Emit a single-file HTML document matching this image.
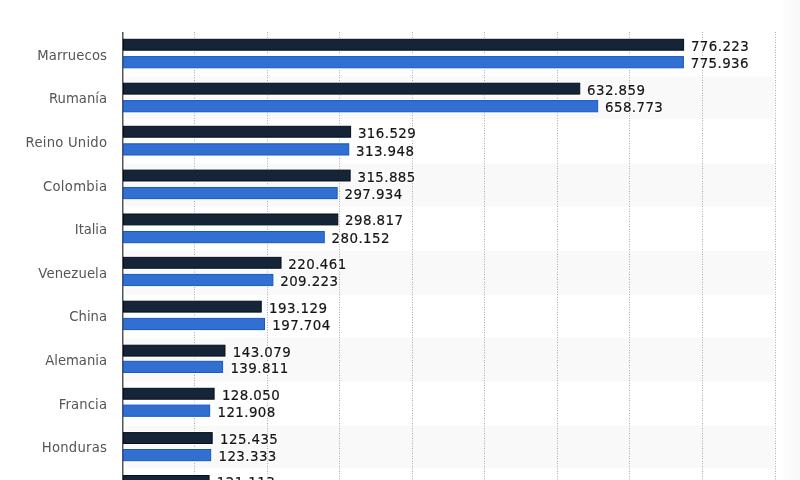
<!DOCTYPE html>
<html><head><meta charset="utf-8"><style>
html,body{margin:0;padding:0;background:#fff;}
body{width:800px;height:480px;overflow:hidden;position:relative;}
svg{position:absolute;left:0;top:0;}
.lab{font-family:"DejaVu Sans","Liberation Sans",sans-serif;font-size:13.2px;letter-spacing:0.12px;fill:#555;}
.val,.halo{font-family:"DejaVu Sans","Liberation Sans",sans-serif;font-size:13.4px;letter-spacing:0.42px;}
.val{fill:#151515;stroke:#151515;stroke-width:0.2px;}
.halo{fill:#fff;stroke:#fff;stroke-width:2px;stroke-linejoin:round;}
</style></head><body>
<svg width="800" height="480" viewBox="0 0 800 480">
<defs><linearGradient id="rg" x1="0" x2="1" y1="0" y2="0"><stop offset="0" stop-color="#fff"/><stop offset="1" stop-color="#f8f8f8"/></linearGradient></defs>
<rect x="780" y="0" width="20" height="480" fill="url(#rg)"/>
<rect x="125" y="76.5" width="649" height="42.70" fill="#f9f9f9"/>
<rect x="125" y="163.8" width="649" height="42.70" fill="#f9f9f9"/>
<rect x="125" y="250.8" width="649" height="44.10" fill="#f9f9f9"/>
<rect x="125" y="337.8" width="649" height="43.70" fill="#f9f9f9"/>
<rect x="125" y="425.8" width="649" height="42.50" fill="#f9f9f9"/>
<line x1="194.5" y1="32.125" x2="194.5" y2="480" stroke="#8f8f8f" stroke-width="1" stroke-dasharray="0.75 1.772" stroke-dashoffset="0"/>
<line x1="267.5" y1="32.125" x2="267.5" y2="480" stroke="#8f8f8f" stroke-width="1" stroke-dasharray="0.75 1.772" stroke-dashoffset="0"/>
<line x1="339.5" y1="32.125" x2="339.5" y2="480" stroke="#8f8f8f" stroke-width="1" stroke-dasharray="0.75 1.772" stroke-dashoffset="0"/>
<line x1="412.5" y1="32.125" x2="412.5" y2="480" stroke="#8f8f8f" stroke-width="1" stroke-dasharray="0.75 1.772" stroke-dashoffset="0"/>
<line x1="484.5" y1="32.125" x2="484.5" y2="480" stroke="#8f8f8f" stroke-width="1" stroke-dasharray="0.75 1.772" stroke-dashoffset="0"/>
<line x1="557.5" y1="32.125" x2="557.5" y2="480" stroke="#8f8f8f" stroke-width="1" stroke-dasharray="0.75 1.772" stroke-dashoffset="0"/>
<line x1="629.5" y1="32.125" x2="629.5" y2="480" stroke="#8f8f8f" stroke-width="1" stroke-dasharray="0.75 1.772" stroke-dashoffset="0"/>
<line x1="702.5" y1="32.125" x2="702.5" y2="480" stroke="#8f8f8f" stroke-width="1" stroke-dasharray="0.75 1.772" stroke-dashoffset="0"/>
<line x1="775.5" y1="32.125" x2="775.5" y2="480" stroke="#8f8f8f" stroke-width="1" stroke-dasharray="0.75 1.772" stroke-dashoffset="0"/>
<rect x="122" y="37.80" width="563.10" height="13.90" fill="#fff"/>
<rect x="122" y="55.10" width="562.90" height="14.20" fill="#fff"/>
<rect x="122" y="81.70" width="459.26" height="13.90" fill="#fff"/>
<rect x="122" y="99.10" width="477.20" height="14.20" fill="#fff"/>
<rect x="122" y="124.80" width="230.12" height="13.90" fill="#fff"/>
<rect x="122" y="142.30" width="228.25" height="14.20" fill="#fff"/>
<rect x="122" y="168.60" width="229.65" height="13.90" fill="#fff"/>
<rect x="122" y="185.95" width="216.65" height="14.20" fill="#fff"/>
<rect x="122" y="212.50" width="217.29" height="13.90" fill="#fff"/>
<rect x="122" y="230.00" width="203.77" height="14.20" fill="#fff"/>
<rect x="122" y="255.85" width="160.53" height="13.90" fill="#fff"/>
<rect x="122" y="272.90" width="152.39" height="14.20" fill="#fff"/>
<rect x="122" y="299.70" width="140.73" height="13.90" fill="#fff"/>
<rect x="122" y="316.90" width="144.05" height="14.20" fill="#fff"/>
<rect x="122" y="343.70" width="104.48" height="13.90" fill="#fff"/>
<rect x="122" y="359.80" width="102.11" height="14.20" fill="#fff"/>
<rect x="122" y="386.80" width="93.59" height="13.90" fill="#fff"/>
<rect x="122" y="403.60" width="89.15" height="14.20" fill="#fff"/>
<rect x="122" y="431.10" width="91.70" height="13.90" fill="#fff"/>
<rect x="122" y="448.00" width="90.18" height="14.20" fill="#fff"/>
<rect x="122" y="474.00" width="88.57" height="13.90" fill="#fff"/>
<line x1="122.75" y1="32" x2="122.75" y2="480" stroke="#555" stroke-width="1.5"/>
<rect x="123.5" y="39.30" width="560.10" height="10.90" fill="#152537" stroke="#030f1d" stroke-width="1"/>
<rect x="123.5" y="56.60" width="559.90" height="11.20" fill="#3170d0" stroke="#1557c9" stroke-width="1"/>
<rect x="123.5" y="83.20" width="456.26" height="10.90" fill="#152537" stroke="#030f1d" stroke-width="1"/>
<rect x="123.5" y="100.60" width="474.20" height="11.20" fill="#3170d0" stroke="#1557c9" stroke-width="1"/>
<rect x="123.5" y="126.30" width="227.12" height="10.90" fill="#152537" stroke="#030f1d" stroke-width="1"/>
<rect x="123.5" y="143.80" width="225.25" height="11.20" fill="#3170d0" stroke="#1557c9" stroke-width="1"/>
<rect x="123.5" y="170.10" width="226.65" height="10.90" fill="#152537" stroke="#030f1d" stroke-width="1"/>
<rect x="123.5" y="187.45" width="213.65" height="11.20" fill="#3170d0" stroke="#1557c9" stroke-width="1"/>
<rect x="123.5" y="214.00" width="214.29" height="10.90" fill="#152537" stroke="#030f1d" stroke-width="1"/>
<rect x="123.5" y="231.50" width="200.77" height="11.20" fill="#3170d0" stroke="#1557c9" stroke-width="1"/>
<rect x="123.5" y="257.35" width="157.53" height="10.90" fill="#152537" stroke="#030f1d" stroke-width="1"/>
<rect x="123.5" y="274.40" width="149.39" height="11.20" fill="#3170d0" stroke="#1557c9" stroke-width="1"/>
<rect x="123.5" y="301.20" width="137.73" height="10.90" fill="#152537" stroke="#030f1d" stroke-width="1"/>
<rect x="123.5" y="318.40" width="141.05" height="11.20" fill="#3170d0" stroke="#1557c9" stroke-width="1"/>
<rect x="123.5" y="345.20" width="101.48" height="10.90" fill="#152537" stroke="#030f1d" stroke-width="1"/>
<rect x="123.5" y="361.30" width="99.11" height="11.20" fill="#3170d0" stroke="#1557c9" stroke-width="1"/>
<rect x="123.5" y="388.30" width="90.59" height="10.90" fill="#152537" stroke="#030f1d" stroke-width="1"/>
<rect x="123.5" y="405.10" width="86.15" height="11.20" fill="#3170d0" stroke="#1557c9" stroke-width="1"/>
<rect x="123.5" y="432.60" width="88.70" height="10.90" fill="#152537" stroke="#030f1d" stroke-width="1"/>
<rect x="123.5" y="449.50" width="87.18" height="11.20" fill="#3170d0" stroke="#1557c9" stroke-width="1"/>
<rect x="123.5" y="475.50" width="85.57" height="10.90" fill="#152537" stroke="#030f1d" stroke-width="1"/>
<text x="690.90" y="50.70" class="halo">776.223</text>
<text x="690.70" y="68.30" class="halo">775.936</text>
<text x="587.06" y="94.60" class="halo">632.859</text>
<text x="605.00" y="112.30" class="halo">658.773</text>
<text x="357.92" y="137.70" class="halo">316.529</text>
<text x="356.05" y="155.50" class="halo">313.948</text>
<text x="357.45" y="181.50" class="halo">315.885</text>
<text x="344.45" y="199.15" class="halo">297.934</text>
<text x="345.09" y="225.40" class="halo">298.817</text>
<text x="331.57" y="243.20" class="halo">280.152</text>
<text x="288.33" y="268.75" class="halo">220.461</text>
<text x="280.19" y="286.10" class="halo">209.223</text>
<text x="269.03" y="312.60" class="halo">193.129</text>
<text x="272.35" y="330.10" class="halo">197.704</text>
<text x="232.78" y="356.60" class="halo">143.079</text>
<text x="230.41" y="373.00" class="halo">139.811</text>
<text x="221.89" y="399.70" class="halo">128.050</text>
<text x="217.45" y="416.80" class="halo">121.908</text>
<text x="220.00" y="444.00" class="halo">125.435</text>
<text x="218.48" y="461.20" class="halo">123.333</text>
<text x="216.87" y="486.90" class="halo">121.113</text>
<text x="107.12" y="60.00" text-anchor="end" class="lab" style="letter-spacing:0.12px">Marruecos</text>
<text x="690.90" y="50.70" class="val">776.223</text>
<text x="690.70" y="68.30" class="val">775.936</text>
<text x="107.00" y="103.00" text-anchor="end" class="lab" style="letter-spacing:0.0px">Rumanía</text>
<text x="587.06" y="94.60" class="val">632.859</text>
<text x="605.00" y="112.30" class="val">658.773</text>
<text x="107.23" y="147.00" text-anchor="end" class="lab" style="letter-spacing:0.23px">Reino Unido</text>
<text x="357.92" y="137.70" class="val">316.529</text>
<text x="356.05" y="155.50" class="val">313.948</text>
<text x="107.30" y="191.00" text-anchor="end" class="lab" style="letter-spacing:0.3px">Colombia</text>
<text x="357.45" y="181.50" class="val">315.885</text>
<text x="344.45" y="199.15" class="val">297.934</text>
<text x="106.92" y="234.00" text-anchor="end" class="lab" style="letter-spacing:-0.08px">Italia</text>
<text x="345.09" y="225.40" class="val">298.817</text>
<text x="331.57" y="243.20" class="val">280.152</text>
<text x="107.12" y="277.90" text-anchor="end" class="lab" style="letter-spacing:0.12px">Venezuela</text>
<text x="288.33" y="268.75" class="val">220.461</text>
<text x="280.19" y="286.10" class="val">209.223</text>
<text x="107.00" y="320.70" text-anchor="end" class="lab" style="letter-spacing:0.0px">China</text>
<text x="269.03" y="312.60" class="val">193.129</text>
<text x="272.35" y="330.10" class="val">197.704</text>
<text x="106.98" y="364.90" text-anchor="end" class="lab" style="letter-spacing:-0.02px">Alemania</text>
<text x="232.78" y="356.60" class="val">143.079</text>
<text x="230.41" y="373.00" class="val">139.811</text>
<text x="107.12" y="409.00" text-anchor="end" class="lab" style="letter-spacing:0.12px">Francia</text>
<text x="221.89" y="399.70" class="val">128.050</text>
<text x="217.45" y="416.80" class="val">121.908</text>
<text x="107.26" y="451.90" text-anchor="end" class="lab" style="letter-spacing:0.26px">Honduras</text>
<text x="220.00" y="444.00" class="val">125.435</text>
<text x="218.48" y="461.20" class="val">123.333</text>
<text x="216.87" y="486.90" class="val">121.113</text>
</svg>
</body></html>
